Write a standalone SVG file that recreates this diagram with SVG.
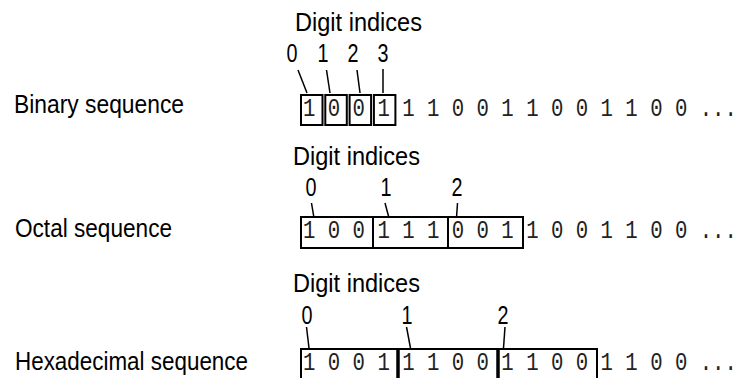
<svg xmlns="http://www.w3.org/2000/svg" width="744" height="378" viewBox="0 0 744 378">
<style>
.lbl{font-family:"Liberation Sans",Arial,sans-serif;font-size:25px;fill:#000}
.idx{font-family:"Liberation Sans",Arial,sans-serif;font-size:25px;fill:#000;text-anchor:middle}
.seq{font-family:"Liberation Mono","DejaVu Sans Mono",monospace;font-size:25px;fill:#222}
.box{fill:none;stroke:#000;stroke-width:2}
.div{stroke:#000;stroke-width:2}
.thick{stroke:#000;stroke-width:3.5}
.con{stroke:#000;stroke-width:1.5;fill:none}
</style>
<rect width="744" height="378" fill="#fff"/>
<g id="binary">
<text class="lbl" x="295" y="31" textLength="127" lengthAdjust="spacingAndGlyphs">Digit indices</text>
<text class="idx" x="292" y="62" textLength="11" lengthAdjust="spacingAndGlyphs">0</text>
<text class="idx" x="323" y="62" textLength="11" lengthAdjust="spacingAndGlyphs">1</text>
<text class="idx" x="353" y="62" textLength="11" lengthAdjust="spacingAndGlyphs">2</text>
<text class="idx" x="383" y="62" textLength="11" lengthAdjust="spacingAndGlyphs">3</text>
<text class="lbl" x="14" y="113" textLength="170" lengthAdjust="spacingAndGlyphs">Binary sequence</text>
<rect class="box" x="301" y="95" width="21.5" height="30"/>
<rect class="box" x="325.3" y="95" width="21.5" height="30"/>
<rect class="box" x="349.6" y="95" width="21.5" height="30"/>
<rect class="box" x="373.9" y="95" width="21.5" height="30"/>
<text class="seq" transform="translate(303,116) scale(0.827,1)">1 0 0 1 1 1 0 0 1 1 0 0 1 1 0 0 ...</text>
</g>
<g id="octal">
<text class="lbl" x="293" y="165" textLength="127" lengthAdjust="spacingAndGlyphs">Digit indices</text>
<text class="idx" x="311" y="196" textLength="11" lengthAdjust="spacingAndGlyphs">0</text>
<text class="idx" x="386" y="196" textLength="11" lengthAdjust="spacingAndGlyphs">1</text>
<text class="idx" x="457" y="196" textLength="11" lengthAdjust="spacingAndGlyphs">2</text>
<text class="lbl" x="15" y="237" textLength="157" lengthAdjust="spacingAndGlyphs">Octal sequence</text>
<rect class="box" x="301" y="217" width="222" height="31"/>
<line class="div" x1="373" y1="217" x2="373" y2="248"/>
<line class="div" x1="448" y1="217" x2="448" y2="248"/>
<text class="seq" transform="translate(303,238) scale(0.827,1)">1 0 0 1 1 1 0 0 1 1 0 0 1 1 0 0 ...</text>
</g>
<g id="hexadecimal">
<text class="lbl" x="293" y="292" textLength="127" lengthAdjust="spacingAndGlyphs">Digit indices</text>
<text class="idx" x="307" y="324" textLength="11" lengthAdjust="spacingAndGlyphs">0</text>
<text class="idx" x="407" y="324" textLength="11" lengthAdjust="spacingAndGlyphs">1</text>
<text class="idx" x="503" y="324" textLength="11" lengthAdjust="spacingAndGlyphs">2</text>
<text class="lbl" x="15" y="370" textLength="233" lengthAdjust="spacingAndGlyphs">Hexadecimal sequence</text>
<path class="box" d="M301,382 V349 H597 V382"/>
<line class="thick" x1="398" y1="349" x2="398" y2="382"/>
<line class="thick" x1="498" y1="349" x2="498" y2="382"/>
<text class="seq" transform="translate(303,370) scale(0.827,1)">1 0 0 1 1 1 0 0 1 1 0 0 1 1 0 0 ...</text>
</g>
<g id="connectors">
<line class="con" x1="298" y1="70" x2="307" y2="93"/>
<line class="con" x1="326.5" y1="70" x2="330" y2="93"/>
<line class="con" x1="357" y1="70" x2="360" y2="93"/>
<line class="con" x1="383" y1="69" x2="383" y2="93"/>
<line class="con" x1="311.5" y1="203" x2="314" y2="218"/>
<line class="con" x1="385" y1="203" x2="389" y2="218"/>
<line class="con" x1="457.5" y1="203" x2="456.5" y2="218"/>
<line class="con" x1="306.5" y1="327" x2="309" y2="348"/>
<line class="con" x1="406.5" y1="327" x2="410.5" y2="348"/>
<line class="con" x1="505" y1="327" x2="503.5" y2="348"/>
</g>
</svg>
